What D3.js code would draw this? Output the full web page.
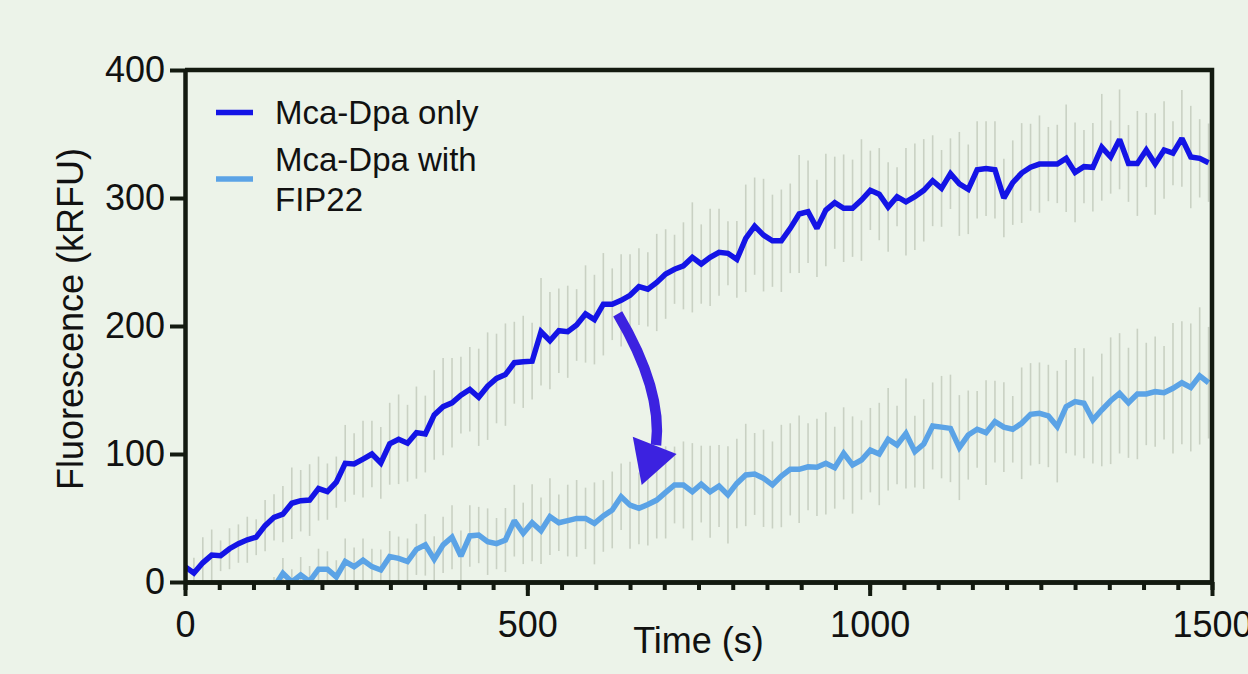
<!DOCTYPE html>
<html>
<head>
<meta charset="utf-8">
<script src="https://cdn.jsdelivr.net/npm/d3@7"></script>
<style>
  body { margin: 0; background: #ecf3e9; }
  svg { display: block; font-family: "Liberation Sans", Arial, sans-serif; }
</style>
</head>
<body>
<svg id="chart"></svg>
<script>
// time points (s)
var times = [0,13,26,39,52,65,78,91,104,117,130,143,156,169,182,195,208,221,234,247,
  260,273,286,299,312,325,338,351,364,377,390,403,416,429,442,455,468,481,494,507,
  520,533,546,559,572,585,598,611,624,637,650,663,676,689,702,715,728,741,754,767,
  780,793,806,819,832,845,858,871,884,897,910,923,936,949,962,975,988,1001,1014,1027,
  1040,1053,1066,1079,1092,1105,1118,1131,1144,1157,1170,1183,1196,1209,1222,1235,1248,1261,1274,1287,
  1300,1313,1326,1339,1352,1365,1378,1391,1404,1417,1430,1443,1456,1469,1482,1495];

// Mca-Dpa only (kRFU) and its SD
var onlyMean = [12,7,15,21,20.5,26,30,33,35,44,
  50.5,53,61.5,63.5,64,73,70.6,78,92.7,92.2,
  96,100,93,108,111.5,108.4,116.7,115.6,130.5,137,
  140,146,150.5,144.3,153,159,162,171.3,172,172.5,
  195.5,188.5,196.3,195.5,200.8,209.4,205,217,217,220,
  224,230.7,228.7,234,240.6,244.3,247,253.6,248.4,253.6,
  257.6,256.8,252,268.5,278,271,266.6,266.6,276.3,287.5,
  289.3,276.3,290.6,296.3,292,292,298.4,306,303,293,
  301,297,301,306,313.5,307.5,319,311,306.8,322,
  323,322,300,312,319.5,324,326.5,326.5,326.6,331,
  320,324.5,324,339.6,332,345.8,327,327,337.5,326.6,
  337.5,335,346.6,332,331,327.6];
var onlySD = [10,12,20,20,12,16,15,18,14,20,
  18,22,28,24,28,25,22,20,30,24,
  30,26,28,32,35,30,36,30,35,38,
  35,30,33,38,42,35,40,32,36,30,
  42,38,33,36,28,38,35,40,28,36,
  32,30,29,38,35,27,34,43,31,38,
  34,25,30,42,38,44,36,40,35,46,
  40,38,44,36,42,38,47.5,31,36,35,
  23,42,41.6,40,35.5,30,27.6,40.6,35,38,
  37,38,30.6,33,39,34,38,29,30.6,42,
  39,28.6,34.5,41.7,28.6,39,30,41,29,39.7,
  38,25,37.8,40,30.6,30.6];

// Mca-Dpa with FIP22 (kRFU) and its SD
var fipMean = [null,null,null,null,null,null,null,null,null,null,
  -4,6.8,0,5.5,0.5,10,10,4,16,12,
  17,12,9.4,19.8,18.5,16,25.5,29,17.7,29,
  35,20.3,36,36.7,31.5,30,32.8,47.9,38,46.3,
  40,51,46.3,48,49.7,49.7,45.8,51.6,56.3,66.6,
  60,57.5,60.5,64,70,75.8,75.8,70.5,76.5,70.5,
  75,68,77,83.6,84.4,81,75.8,82.8,88,88,
  90,89.6,92.7,89.3,100.5,91.4,95.3,103,100,111.5,
  107,116,101.8,107.8,121.9,121,120,105,114.8,119.3,
  116.7,125.3,121,119.3,124,131,131.8,129.7,121.4,137,
  140.9,139.6,126.6,134.4,141.6,147.4,140,146.9,146.9,148.7,
  147.9,151.3,155.7,152,161,155.7];
var fipSD = [null,null,null,null,null,null,null,null,null,null,
  8,12,10,14,12,16,14,13,18,15,
  17,14,16,20,17,18,20,24,18,22,
  25,20,24,22,26,20,25,28,24,30,
  26,30,22,28,30,24,32,28,30,26,
  34,28,32,30,36,30,34,38,30,36,
  32,38,35,40,32,38,34,40,36,42,
  34,38,40,32,36,38,31,33,40,40,
  30.6,43,28,35,34,40,42,41,34.8,30,
  41,32,35,26,43.6,40,39.7,40,43.6,36.5,
  42,43,34,44,49.5,47,43,51,40,43,
  36.5,51,48,50,53.6,43.6];

var xMajorTicks = [0, 500, 1000, 1500];
var yTicks = [0, 100, 200, 300, 400];
var seriesNames = [["Mca-Dpa only"], ["Mca-Dpa with", "FIP22"]];

var width = 1248, height = 674;
var plotLeft = 185, plotRight = 1212, plotTop = 70, plotBottom = 582;
var axisColor = "#131a10";
let darkBlue = "#1414e6";
let lightBlue = "#5ba3e6";
let barColor = "#c9d1c3";
let arrowColor = "#3c22e0";

var svg = d3.select("#chart").attr("width", width).attr("height", height);

var x = d3.scaleLinear().domain([0, 1500]).range([plotLeft, plotRight]);
var y = d3.scaleLinear().domain([0, 400]).range([plotBottom, plotTop]);

svg.append("clipPath").attr("id", "plotClip")
    .append("rect")
    .attr("x", plotLeft).attr("y", plotTop)
    .attr("width", plotRight - plotLeft).attr("height", plotBottom - plotTop);

var plot = svg.append("g").attr("clip-path", "url(#plotClip)");

// rows for both series
var series = [
  {name: "only", color: darkBlue, rows: times.map((t, i) => ({t: t, m: onlyMean[i], sd: onlySD[i]}))},
  {name: "fip", color: lightBlue, rows: times.map((t, i) => ({t: t, m: fipMean[i], sd: fipSD[i]})).filter(d => d.m !== null)}
];

// error bars (behind the lines)
series.forEach(s => {
  plot.append("g").selectAll("line")
    .data(s.rows)
    .enter()
      .append("line")
      .attr("x1", d => x(d.t)).attr("x2", d => x(d.t))
      .attr("y1", d => y(d.m - d.sd)).attr("y2", d => y(d.m + d.sd))
      .attr("stroke", barColor).attr("stroke-width", 1.6);
});

var line = d3.line().x(d => x(d.t)).y(d => y(d.m));

// draw light series first, dark on top
series.slice().reverse().forEach(s => {
  plot.append("path")
    .datum(s.rows)
    .attr("d", line)
    .attr("fill", "none")
    .attr("stroke", s.color)
    .attr("stroke-width", 5.5)
    .attr("stroke-linejoin", "miter")
    .attr("stroke-miterlimit", 2);
});

// frame (top + right)
svg.append("path")
    .attr("d", "M" + plotLeft + "," + plotTop + "H" + plotRight + "V" + plotBottom)
    .attr("fill", "none").attr("stroke", axisColor).attr("stroke-width", 4.5);

// x axis: minor ticks every 50 s, major ticks labelled
var xMinor = svg.append("g").attr("transform", "translate(0," + plotBottom + ")")
    .call(d3.axisBottom(x).tickValues(d3.range(0, 1501, 50)).tickSize(8).tickSizeOuter(0).tickFormat(""));
var xMajor = svg.append("g").attr("transform", "translate(0," + plotBottom + ")")
    .call(d3.axisBottom(x).tickValues(xMajorTicks).tickSize(14).tickSizeOuter(0).tickPadding(15).tickFormat(d3.format("d")));
var yAxis = svg.append("g").attr("transform", "translate(" + plotLeft + ",0)")
    .call(d3.axisLeft(y).tickValues(yTicks).tickSize(15).tickSizeOuter(0).tickPadding(5));

[xMinor, xMajor, yAxis].forEach(g => {
  g.select(".domain").attr("stroke", axisColor).attr("stroke-width", 4.5);
  g.selectAll(".tick line").attr("stroke", axisColor).attr("stroke-width", 4);
  g.selectAll(".tick text").attr("fill", "#111").attr("font-size", 36)
    .attr("font-family", "'Liberation Sans', Arial, sans-serif");
});

// axis titles
svg.append("text")
    .attr("x", (plotLeft + plotRight) / 2).attr("y", 653)
    .attr("text-anchor", "middle").attr("font-size", 36).attr("fill", "#111")
    .text("Time (s)");
svg.append("text")
    .attr("transform", "translate(83," + 319 + ") rotate(-90)")
    .attr("text-anchor", "middle").attr("font-size", 36).attr("fill", "#111")
    .text("Fluorescence (kRFU)");

// legend
var legend = svg.append("g").selectAll("g")
    .data(series.map((s, i) => ({color: s.color, lines: seriesNames[i]})))
    .enter()
      .append("g")
      .attr("transform", (d, i) => "translate(0," + (i == 0 ? 0 : 66) + ")");
legend.append("line")
    .attr("x1", 216).attr("x2", 253)
    .attr("y1", (d, i) => i == 0 ? 112.5 : 113).attr("y2", (d, i) => i == 0 ? 112.5 : 113)
    .attr("stroke", d => d.color).attr("stroke-width", 5.5);
legend.each(function(d, i) {
  var txt = d3.select(this).append("text")
      .attr("font-size", 33).attr("fill", "#111");
  var y0 = i == 0 ? 124 : 105;
  d.lines.forEach((l, j) => {
    txt.append("tspan").attr("x", 275).attr("y", y0 + j * 39.7).text(l);
  });
});

// curved arrow annotation, placed in data space
var arrowPath = d3.path();
arrowPath.moveTo(x(632), y(209.5));
arrowPath.quadraticCurveTo(x(698), y(150), x(688), y(107));
svg.append("path")
    .attr("d", arrowPath.toString())
    .attr("fill", "none").attr("stroke", arrowColor).attr("stroke-width", 10.5);
var head = [[654, 113.5], [718, 100], [667, 75.8]];
svg.append("path")
    .attr("d", d3.line().x(d => x(d[0])).y(d => y(d[1]))(head) + "Z")
    .attr("fill", arrowColor);
</script>
</body>
</html>
